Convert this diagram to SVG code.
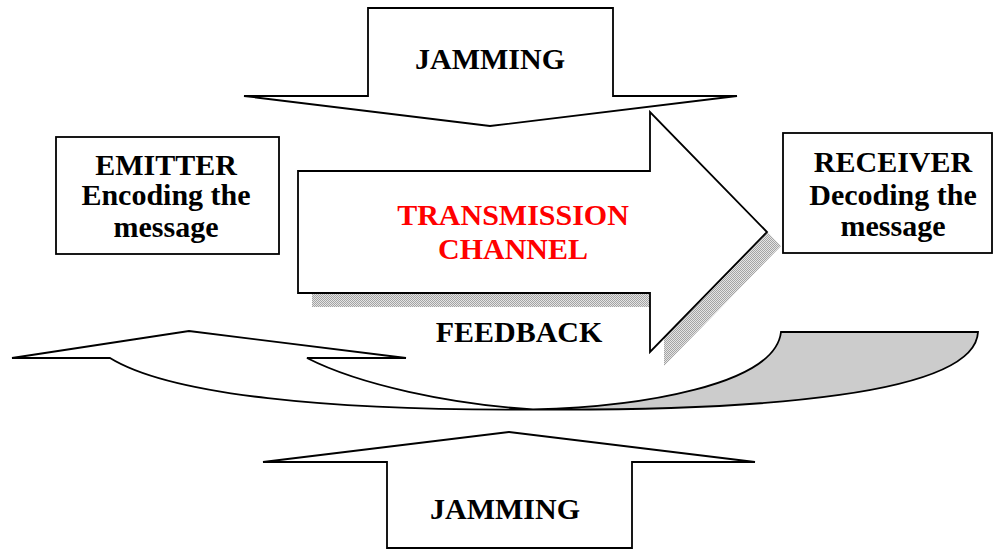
<svg xmlns="http://www.w3.org/2000/svg" width="997" height="550" viewBox="0 0 997 550">
  <style>
    .outline { fill: #ffffff; stroke: #000000; stroke-width: 1.8; stroke-linejoin: miter; }
    .back { fill: #cccccc; stroke: #000000; stroke-width: 1.8; }
    .label { font-family: "Liberation Serif", "Times New Roman", serif; font-weight: bold; font-size: 30px; text-anchor: middle; fill: #000000; }
    .red { fill: #ff0000; }
  </style>
  <defs>
    <!-- fine checkerboard used for the drop shadow -->
    <pattern id="dither" width="2" height="2" patternUnits="userSpaceOnUse">
      <rect width="2" height="2" fill="#e4e4e4"/>
      <rect x="0" y="0" width="1" height="1" fill="#a4a4a4"/>
      <rect x="1" y="1" width="1" height="1" fill="#a4a4a4"/>
    </pattern>
  </defs>

  <rect width="997" height="550" fill="#ffffff"/>

  <g id="connectors">
    <!-- feedback: curved band with arrowhead pointing left -->
    <g id="feedback">
      <path class="outline" d="M12,358 L189,331 L406,358 L307,358 C360,385 450,404 533,409.5 C330,411 170,395 110,358 Z"/>
      <path class="back" d="M533,409.5 C640,407 775,385 781,332 L978,332 C975,395 760,411 533,409.5 Z"/>
      <text class="label" x="519" y="342">FEEDBACK</text>
    </g>

    <!-- transmission channel block arrow with drop shadow -->
    <g id="channel">
      <polygon fill="url(#dither)" points="312,185 664,185 664,126 781,246 664,366 664,307 312,307"/>
      <polygon class="outline" points="298,171 650,171 650,112 767,232 650,352 650,293 298,293"/>
      <text class="label red" x="513" y="225">TRANSMISSION</text>
      <text class="label red" x="513" y="259">CHANNEL</text>
    </g>
  </g>

  <g id="jamming-top">
    <polygon class="outline" points="368,8 613,8 613,96 737,96 490,126 244,96 368,96"/>
    <text class="label" x="490" y="69">JAMMING</text>
  </g>

  <g id="jamming-bottom">
    <polygon class="outline" points="263,462 509,432 755,462 632,462 632,548 387,548 387,462"/>
    <text class="label" x="505" y="519">JAMMING</text>
  </g>

  <g id="emitter">
    <rect class="outline" x="56" y="137" width="223" height="117"/>
    <text class="label" x="166" y="175">EMITTER</text>
    <text class="label" x="166" y="205">Encoding the</text>
    <text class="label" x="166" y="237">message</text>
  </g>

  <g id="receiver">
    <rect class="outline" x="783" y="133" width="209" height="120"/>
    <text class="label" x="893" y="172">RECEIVER</text>
    <text class="label" x="893" y="205">Decoding the</text>
    <text class="label" x="893" y="236">message</text>
  </g>
</svg>
